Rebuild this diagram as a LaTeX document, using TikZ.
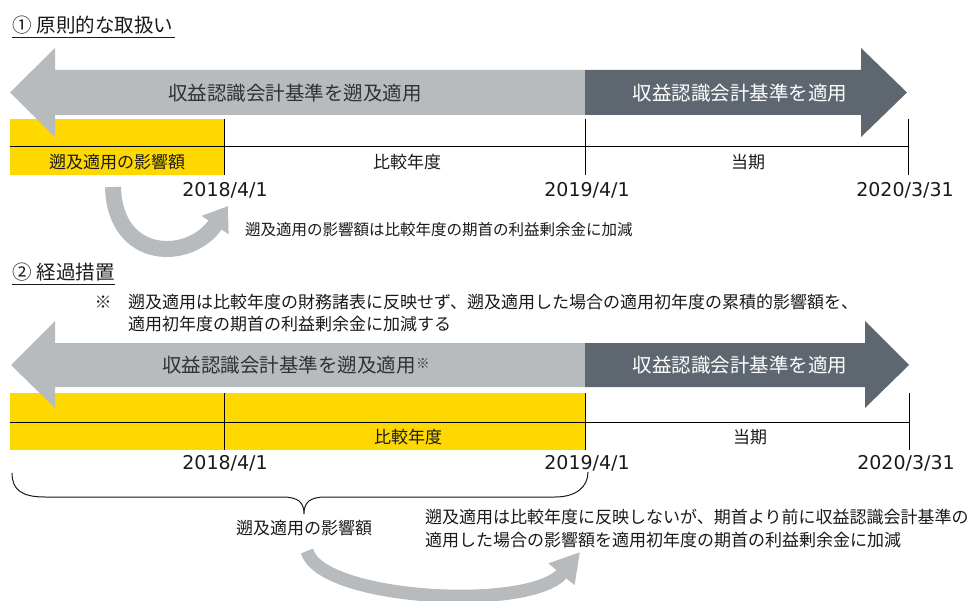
\documentclass[tikz,border=0pt]{standalone}
\usepackage{fontspec}
\setmainfont{Noto Sans CJK JP}
\newfontfamily\datefont{DejaVu Sans}
\usetikzlibrary{arrows.meta}
\definecolor{lgray}{HTML}{B7BBBE}
\definecolor{dgray}{HTML}{5E6770}
\definecolor{eyyellow}{HTML}{FFD800}
\definecolor{txt}{HTML}{1A1A1A}
\begin{document}
\begin{tikzpicture}[x=1pt,y=-1pt,
  lbl/.style={inner sep=0pt, text=txt, font=\fontsize{17}{20}\selectfont},
  smalllbl/.style={inner sep=0pt, text=txt, font=\fontsize{15.5}{18}\selectfont},
  datelbl/.style={inner sep=0pt, text=txt, font=\datefont\fontsize{19}{22}\selectfont},
  titlelbl/.style={inner sep=0pt, anchor=west, text=txt, font=\fontsize{19.5}{22}\selectfont},
  arrtxt/.style={inner sep=0pt, font=\fontsize{19.5}{22}\selectfont},
  tick/.style={line width=1pt, draw=black},
  uline/.style={line width=1.2pt, draw=txt},
  curvearrow/.style={draw=lgray, line width=#1},
  bracestyle/.style={line width=1pt, draw=txt}
]
\useasboundingbox (0,0) rectangle (971,601);

% ---------- Section 1 ----------
\node[titlelbl] (t1) at (12,25) {①\hspace{5pt}原則的な取扱い};
\coordinate (u1a) at (12,37.5);
\coordinate (u1b) at (175,37.5);
\draw[uline] (u1a) -- (u1b);

\fill[eyyellow] (10,119) rectangle (224,175);

\fill[lgray] (10,92.5) -- (55,48) -- (55,70) -- (585.5,70) -- (585.5,115) -- (55,115) -- (55,137) -- cycle;
\fill[dgray] (585,70) -- (861,70) -- (861,48) -- (907,92.5) -- (861,137) -- (861,115) -- (585,115) -- cycle;
\node[arrtxt, text=txt!90] (a1l) at (295,93) {収益認識会計基準を遡及適用};
\node[arrtxt, text=white] (a1r) at (740,93) {収益認識会計基準を適用};

\coordinate (h1a) at (10,147);
\coordinate (h1b) at (908,147);
\draw[tick] (h1a) -- (h1b);
\coordinate (v1at) at (224,119); \coordinate (v1ab) at (224,175);
\coordinate (v1bt) at (585,119); \coordinate (v1bb) at (585,175);
\coordinate (v1ct) at (908,119); \coordinate (v1cb) at (908,175);
\draw[tick] (v1at) -- (v1ab);
\draw[tick] (v1bt) -- (v1bb);
\draw[tick] (v1ct) -- (v1cb);

\node[lbl] (l1a) at (117,162) {遡及適用の影響額};
\node[lbl] (l1b) at (407,162) {比較年度};
\node[lbl] (l1c) at (748,162) {当期};

\node[datelbl] (d1a) at (225,190) {2018/4/1};
\node[datelbl] (d1b) at (587,190) {2019/4/1};
\node[datelbl] (d1c) at (905,190) {2020/3/31};

\coordinate (c1s) at (113,187);
\coordinate (c1e) at (228,206);
\draw[curvearrow=16pt, -{Triangle[length=23pt,width=31pt]}] (c1s) .. controls (115,262) and (190,262) .. (c1e);
\node[smalllbl, anchor=west] (n1) at (245,230) {遡及適用の影響額は比較年度の期首の利益剰余金に加減};

% ---------- Section 2 ----------
\node[titlelbl] (t2) at (12,272) {②\hspace{5pt}経過措置};
\coordinate (u2a) at (12,284.5);
\coordinate (u2b) at (115,284.5);
\draw[uline] (u2a) -- (u2b);

\node[lbl] (mk) at (103,302) {※};
\node[lbl, anchor=west] (nt1) at (128,302) {遡及適用は比較年度の財務諸表に反映せず、遡及適用した場合の適用初年度の累積的影響額を、};
\node[lbl, anchor=west] (nt2) at (128,324) {適用初年度の期首の利益剰余金に加減する};

\fill[eyyellow] (10,393) rectangle (585,450);

\fill[lgray] (11,365) -- (55,321) -- (55,343) -- (585.5,343) -- (585.5,387) -- (55,387) -- (55,408) -- cycle;
\fill[dgray] (585,343) -- (865,343) -- (865,321) -- (909,365) -- (865,408) -- (865,387) -- (585,387) -- cycle;
\node[arrtxt, text=txt!90] (a2l) at (289,365) {収益認識会計基準を遡及適用};
\node[inner sep=0pt, text=txt!90, font=\fontsize{13.5}{14}\selectfont, anchor=west] (a2m) at (a2l.east) {\raisebox{3pt}{※}};
\node[arrtxt, text=white] (a2r) at (740,365) {収益認識会計基準を適用};

\coordinate (h2a) at (10,422);
\coordinate (h2b) at (909,422);
\draw[tick] (h2a) -- (h2b);
\coordinate (v2at) at (224,393); \coordinate (v2ab) at (224,450);
\coordinate (v2bt) at (585,393); \coordinate (v2bb) at (585,450);
\coordinate (v2ct) at (909,393); \coordinate (v2cb) at (909,450);
\draw[tick] (v2at) -- (v2ab);
\draw[tick] (v2bt) -- (v2bb);
\draw[tick] (v2ct) -- (v2cb);

\node[lbl] (l2b) at (408,437) {比較年度};
\node[lbl] (l2c) at (750,437) {当期};

\node[datelbl] (d2a) at (225,463) {2018/4/1};
\node[datelbl] (d2b) at (587,463) {2019/4/1};
\node[datelbl] (d2c) at (906,463) {2020/3/31};

% brace
\coordinate (bl) at (12,473);
\coordinate (bt) at (304,514);
\coordinate (br) at (588,472);
\draw[bracestyle] (bl) .. controls (12,490) and (22,497) .. (45,497) -- (282,497)
   .. controls (298,497) and (304,502) .. (bt)
   .. controls (304,502) and (310,497) .. (326,497) -- (555,497)
   .. controls (576,497) and (588,487) .. (br);
\node[lbl] (bl2) at (304,528) {遡及適用の影響額};

\node[lbl, anchor=west] (nb1) at (425,517) {遡及適用は比較年度に反映しないが、期首より前に収益認識会計基準の};
\node[lbl, anchor=west] (nb2) at (425,540) {適用した場合の影響額を適用初年度の期首の利益剰余金に加減};

\coordinate (c2s) at (307,551);
\coordinate (c2e) at (580,552);
\draw[curvearrow=13pt, -{Triangle[length=29pt,width=32pt]}] (c2s) .. controls (320,600) and (530,612) .. (c2e);
\end{tikzpicture}
\end{document}
